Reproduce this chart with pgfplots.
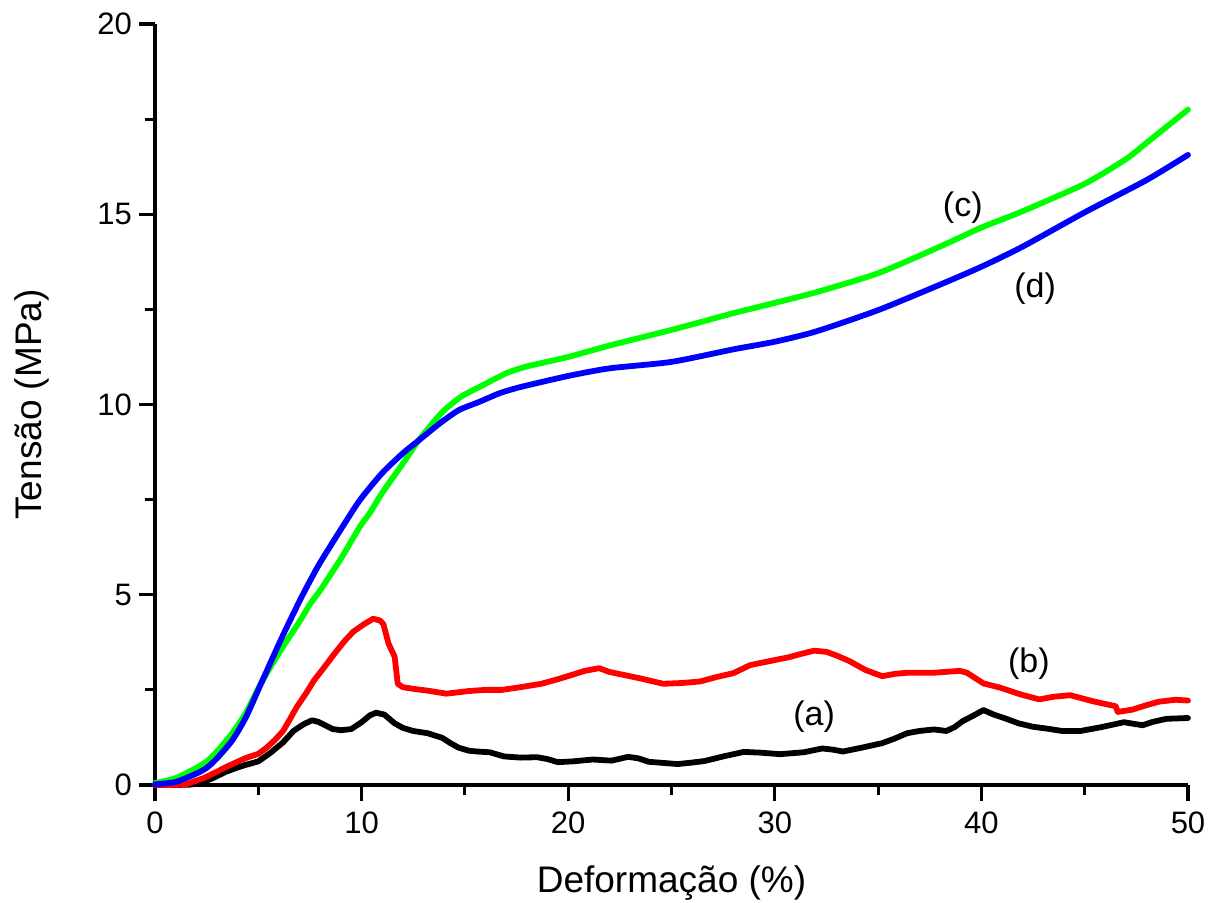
\documentclass[border=0pt]{standalone}
\usepackage{fontspec}
\setmainfont{Liberation Sans}
\usepackage{pgfplots}
\pgfplotsset{compat=1.18}
\begin{document}
\begin{tikzpicture}
\begin{axis}[
  name=ax,
  scale only axis,
  width=516.5pt, height=380.5pt,
  xmin=0, xmax=50, ymin=0, ymax=20,
  axis x line=bottom, axis y line=left,
  axis line style={-, line width=1.6pt, black},
  xtick={0,10,20,30,40,50},
  ytick={0,5,10,15,20},
  minor x tick num=1, minor y tick num=1,
  tick align=outside,
  major tick length=8pt, minor tick length=5pt,
  every tick/.style={line width=1.6pt, black},
  /pgf/number format/assume math mode=true,
  ticklabel style={font=\fontsize{15.5}{18}\selectfont},
  xticklabel style={yshift=-2pt},
  xlabel={Deformação (\%)},
  ylabel={Tensão (MPa)},
  label style={font=\fontsize{18.5}{22}\selectfont},
  xlabel style={at={(axis description cs:0.5,-0.1419)}, anchor=base},
  ylabel style={at={(axis description cs:-0.1094,0.5)}, anchor=base, rotate=0},
  clip=false,
  every axis plot/.append style={line width=2.9pt, line join=round, line cap=round},
]
% (a) black
\addplot[black] coordinates {
(0,0) (1,0) (1.7,0.01) (2.2,0.05) (2.8,0.18) (3.4,0.34) (4.0,0.46) (4.4,0.53)
(5.0,0.62) (5.6,0.85) (6.2,1.12) (6.7,1.42) (7.2,1.60) (7.6,1.70) (7.9,1.66)
(8.2,1.58) (8.6,1.47) (9.0,1.44) (9.5,1.47) (10.0,1.65) (10.4,1.83) (10.7,1.90)
(11.1,1.85) (11.6,1.62) (12.0,1.50) (12.5,1.42) (13.2,1.36) (13.9,1.24)
(14.3,1.10) (14.7,0.98) (15.2,0.90) (15.6,0.88) (16.2,0.86) (16.9,0.75)
(17.7,0.72) (18.5,0.73) (19.0,0.68) (19.5,0.60) (20.2,0.62) (21.2,0.67)
(22.1,0.64) (22.9,0.74) (23.4,0.70) (23.9,0.61) (24.6,0.58) (25.3,0.55)
(26.0,0.59) (26.6,0.63) (27.5,0.75) (28.5,0.87) (29.3,0.85) (30.25,0.81)
(31.4,0.86) (32.3,0.96) (32.8,0.93) (33.3,0.88) (34.2,0.98) (35.2,1.10)
(35.8,1.22) (36.4,1.36) (37.0,1.42) (37.7,1.46) (38.3,1.42) (38.7,1.52)
(39.1,1.68) (39.6,1.82) (40.1,1.97) (40.6,1.85) (41.1,1.76) (41.8,1.62)
(42.5,1.53) (43.2,1.48) (43.9,1.42) (44.8,1.42) (45.8,1.52) (46.9,1.65)
(47.8,1.57) (48.3,1.66) (48.96,1.74) (50,1.76)
};
% (b) red
\addplot[red] coordinates {
(0,0) (1.0,0) (1.5,0.02) (2.35,0.18) (3.0,0.35) (3.5,0.49) (4.4,0.71) (5.0,0.82)
(5.4,0.98) (5.8,1.18) (6.2,1.42) (6.5,1.70) (6.85,2.04) (7.3,2.40) (7.7,2.75)
(8.2,3.10) (8.7,3.46) (9.2,3.80) (9.6,4.03) (10.1,4.22) (10.56,4.37) (10.9,4.32)
(11.06,4.22) (11.3,3.72) (11.6,3.37) (11.75,2.66) (12.0,2.57) (12.6,2.52)
(13.2,2.48) (14.1,2.40) (15.2,2.47) (16.0,2.50) (16.8,2.50) (17.8,2.58)
(18.7,2.66) (19.5,2.78) (20.1,2.88) (20.8,3.00) (21.5,3.07) (22.0,2.97)
(22.8,2.88) (23.5,2.80) (24.6,2.66) (25.5,2.68) (26.38,2.72) (27.2,2.84)
(28.0,2.94) (28.8,3.15) (29.7,3.25) (30.7,3.36) (31.3,3.45) (31.9,3.53)
(32.5,3.50) (33.0,3.40) (33.6,3.26) (34.4,3.02) (35.2,2.86) (35.8,2.92)
(36.4,2.95) (37.7,2.95) (38.96,3.00) (39.3,2.95) (40.1,2.67) (40.9,2.56)
(41.9,2.38) (42.8,2.25) (43.5,2.32) (44.3,2.36) (45.4,2.20) (46.5,2.07)
(46.6,1.92) (47.3,1.98) (48.0,2.10) (48.6,2.19) (49.4,2.24) (50,2.22)
};
% (c) green
\addplot[color={rgb,255:red,0;green,255;blue,0}, smooth, tension=0.4] coordinates {
(0,0.05) (1,0.18) (2,0.45) (2.5,0.62) (3,0.88) (3.75,1.37) (4.4,1.9) (5.08,2.62)
(5.7,3.2) (6.25,3.68) (7,4.3) (7.5,4.75) (8,5.12) (9,5.95) (9.92,6.79) (10.4,7.15)
(11,7.68) (12,8.45) (12.75,9.05) (13.5,9.55) (14,9.85) (14.8,10.2) (15.7,10.46)
(17,10.82) (18,11.0) (20,11.25) (22,11.55) (25,11.96) (28,12.4) (30,12.67)
(32,12.95) (35,13.45) (38,14.15) (40,14.65) (42,15.08) (45,15.8) (47,16.45)
(48,16.88) (50,17.75)
};
% (d) blue
\addplot[blue, smooth, tension=0.4] coordinates {
(0,0.02) (1,0.08) (2,0.3) (2.5,0.45) (3,0.7) (3.75,1.18) (4.4,1.78) (5.08,2.6)
(5.7,3.35) (6.25,4.0) (7.02,4.86) (7.5,5.36) (8,5.85) (9,6.72) (9.92,7.49) (11,8.2)
(12,8.72) (12.75,9.05) (13.8,9.51) (14.7,9.85) (15.7,10.07) (16.7,10.3)
(17.7,10.46) (20,10.75) (22,10.95) (25,11.12) (28,11.45) (30,11.65)
(32,11.92) (35,12.48) (38,13.15) (40,13.62) (42,14.15) (45,15.05) (48,15.9)
(50,16.56)
};
\node[font=\fontsize{17}{20}\selectfont] at (axis cs:31.9,1.79) {(a)};
\node[font=\fontsize{17}{20}\selectfont] at (axis cs:42.3,3.18) {(b)};
\node[font=\fontsize{17}{20}\selectfont] at (axis cs:39.1,15.16) {(c)};
\node[font=\fontsize{17}{20}\selectfont] at (axis cs:42.6,13.04) {(d)};
\end{axis}
\pgfresetboundingbox
\path[use as bounding box] ([xshift=-77.5pt,yshift=-59pt]ax.south west) rectangle ([xshift=529.5pt,yshift=392.5pt]ax.south west);
\end{tikzpicture}
\end{document}
